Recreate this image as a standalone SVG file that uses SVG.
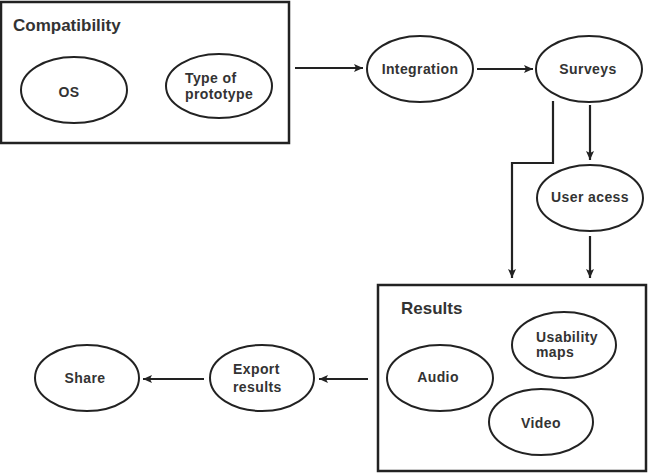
<svg xmlns="http://www.w3.org/2000/svg" width="658" height="474" viewBox="0 0 658 474">
<defs>
<marker id="ah" markerWidth="10" markerHeight="10" refX="9" refY="5" orient="auto" markerUnits="userSpaceOnUse">
<path d="M0,1 L9,5 L0,9 L2,5 Z" fill="#222"/>
</marker>
<style>
.box{fill:#fff;stroke:#222;stroke-width:2.5}
.node{fill:#fff;stroke:#222;stroke-width:2}
.t{font-family:"Liberation Sans",Arial,sans-serif;font-weight:bold;font-size:14px;fill:#333;letter-spacing:0.4px}
.title{font-family:"Liberation Sans",Arial,sans-serif;font-weight:bold;font-size:17px;fill:#333}
.m{text-anchor:middle}
.c{fill:none;stroke:#222;stroke-width:2.2}
</style>
</defs>
<rect width="658" height="474" fill="#fff"/>
<g id="compatibility">
<rect class="box" x="1" y="2" width="288" height="141"/>
<text class="title" x="13" y="31">Compatibility</text>
</g>
<g id="os">
<ellipse class="node" cx="74" cy="90" rx="53" ry="33"/>
<text class="t m" x="69" y="97">OS</text>
</g>
<g id="type-of-prototype">
<ellipse class="node" cx="219" cy="86" rx="53" ry="32"/>
<text class="t" x="185" y="83">Type of</text>
<text class="t" x="185" y="99">prototype</text>
</g>
<g id="integration">
<ellipse class="node" cx="420" cy="69" rx="53" ry="33"/>
<text class="t m" x="420" y="74">Integration</text>
</g>
<g id="surveys">
<ellipse class="node" cx="589" cy="69" rx="53" ry="33"/>
<text class="t m" x="588" y="74">Surveys</text>
</g>
<g id="user-acess">
<ellipse class="node" cx="590" cy="198" rx="53" ry="33"/>
<text class="t m" x="590" y="202">User acess</text>
</g>
<g id="results">
<rect class="box" x="378" y="285" width="268" height="186"/>
<text class="title" x="401" y="314">Results</text>
</g>
<g id="usability-maps">
<ellipse class="node" cx="564" cy="345" rx="52" ry="33"/>
<text class="t" x="536" y="342">Usability</text>
<text class="t" x="536" y="357">maps</text>
</g>
<g id="audio">
<ellipse class="node" cx="440" cy="378" rx="53" ry="33"/>
<text class="t m" x="438" y="382">Audio</text>
</g>
<g id="video">
<ellipse class="node" cx="541" cy="422" rx="52" ry="33"/>
<text class="t m" x="541" y="428">Video</text>
</g>
<g id="export-results">
<ellipse class="node" cx="262" cy="378" rx="52" ry="33"/>
<text class="t" x="233" y="374">Export</text>
<text class="t" x="233" y="392">results</text>
</g>
<g id="share">
<ellipse class="node" cx="87" cy="378" rx="52" ry="33"/>
<text class="t m" x="85" y="383">Share</text>
</g>
<g id="connectors">
<line class="c" x1="295" y1="68" x2="363" y2="68" marker-end="url(#ah)"/>
<line class="c" x1="477" y1="69" x2="533" y2="69" marker-end="url(#ah)"/>
<line class="c" x1="590" y1="105" x2="590" y2="160" marker-end="url(#ah)"/>
<polyline class="c" points="553,101 553,163 512,163 512,278" marker-end="url(#ah)"/>
<line class="c" x1="590" y1="236" x2="590" y2="278" marker-end="url(#ah)"/>
<line class="c" x1="368" y1="379" x2="319" y2="379" marker-end="url(#ah)"/>
<line class="c" x1="204" y1="379" x2="143" y2="379" marker-end="url(#ah)"/>
</g>
</svg>
